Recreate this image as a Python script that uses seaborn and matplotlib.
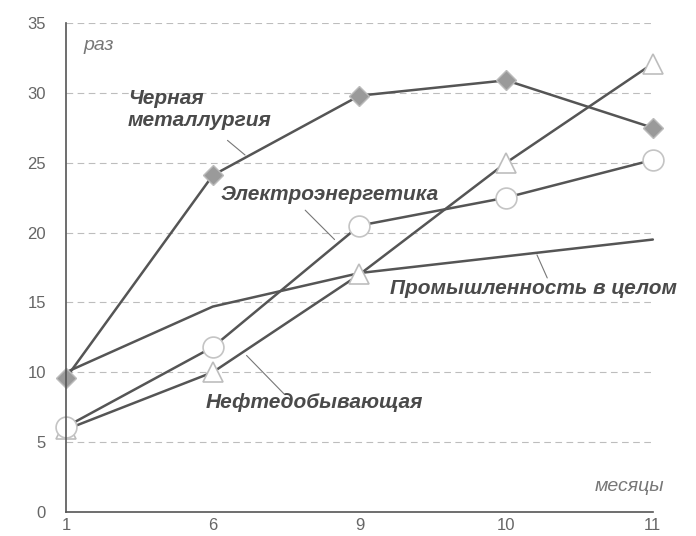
import matplotlib
matplotlib.use("Agg")
import matplotlib.pyplot as plt
import seaborn as sns
import pandas as pd

# === data ===
months = ["1", "6", "9", "10", "11"]
metallurgy = [9.6, 24.1, 29.8, 30.9, 27.5]
power = [6.1, 11.8, 20.5, 22.5, 25.2]
oil = [5.9, 10.0, 17.0, 25.0, 32.1]
industry = [10.0, 14.7, 17.1, 18.3, 19.5]

LINE = "#555555"
TEXT = "#4a4a4a"

sns.set_theme(style="white")
plt.rcParams["font.family"] = ["Liberation Sans", "DejaVu Sans"]

fig = plt.figure(figsize=(6.96, 5.36), dpi=100)
ax = fig.add_axes([0.095, 0.045, 0.843, 0.912])

pos = list(range(len(months)))
series = [
    (industry, dict(marker=None)),
    (oil, dict(marker="^", markersize=15, markerfacecolor="white",
               markeredgecolor="#bdbdbd", markeredgewidth=1.2)),
    (power, dict(marker="o", markersize=15, markerfacecolor="white",
                 markeredgecolor="#c4c4c4", markeredgewidth=1.2)),
    (metallurgy, dict(marker="D", markersize=10, markerfacecolor="#9a9a9a",
                      markeredgecolor="#bbbbbb", markeredgewidth=1.0)),
]
for vals, mk in series:
    df = pd.DataFrame({"x": pos, "y": vals})
    sns.lineplot(data=df, x="x", y="y", ax=ax, color=LINE, linewidth=1.8,
                 clip_on=False, **mk)

ax.set_xlim(0, 4)
ax.set_ylim(0, 35)
ax.set_xticks(pos)
ax.set_xticklabels(months)
ax.set_yticks(range(0, 36, 5))
ax.set_xlabel("")
ax.set_ylabel("")

for y in range(5, 36, 5):
    ax.axhline(y, color="#bdbdbd", linestyle=(0, (6, 4)), linewidth=0.8, zorder=0)

for side in ["top", "right"]:
    ax.spines[side].set_visible(False)
for side in ["left", "bottom"]:
    ax.spines[side].set_color(LINE)
    ax.spines[side].set_linewidth(1.2)
ax.tick_params(direction="inout", length=9, width=1.2, color=LINE,
               labelcolor="#666666", labelsize=12)
ax.tick_params(axis="y", pad=10)
ax.tick_params(axis="x", pad=0)

lab = dict(color=TEXT, fontsize=15, fontweight="bold", fontstyle="italic")
ax.text(0.42, 28.8, "Черная\nметаллургия", ha="left", va="center",
        linespacing=1.2, **lab)
ax.text(1.05, 22.7, "Электроэнергетика", ha="left", va="center", **lab)
ax.text(2.21, 16.0, "Промышленность в целом", ha="left", va="center", **lab)
ax.text(0.95, 7.8, "Нефтедобывающая", ha="left", va="center", **lab)

leaders = [((1.10, 26.6), (1.22, 25.55)),
           ((1.63, 21.6), (1.83, 19.5)),
           ((3.21, 18.4), (3.28, 16.75)),
           ((1.23, 11.2), (1.49, 8.4))]
for (x0, y0), (x1, y1) in leaders:
    ax.plot([x0, x1], [y0, y1], color="#777777", linewidth=0.8)

ax.text(0.12, 33.4, "раз", color="#777777", fontsize=14, fontstyle="italic",
        ha="left", va="center")
ax.text(4.08, 1.8, "месяцы", color="#777777", fontsize=14, fontstyle="italic",
        ha="right", va="center")

fig.savefig("out.png", dpi=100)
